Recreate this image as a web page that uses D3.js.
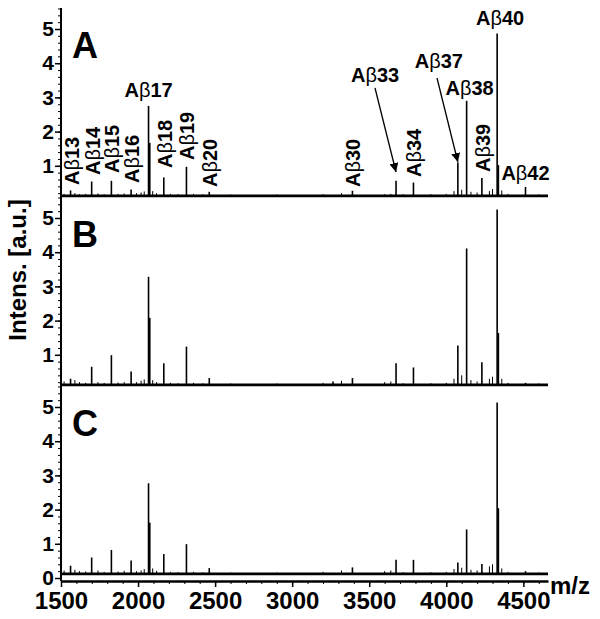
<!DOCTYPE html>
<head>
	<meta charset="utf-8">
	<title>Abeta spectra</title>
	<script src="https://d3js.org/d3.v7.min.js"></script>
	<style>
	body { margin:0; background:#fff; }
	svg text { font-family: "Liberation Sans", Arial, sans-serif; font-weight:bold; fill:#000; }
	.axis path, .axis line { stroke:#000; }
	.peak { stroke:#000; stroke-width:1.6px; }
	.baseline { stroke:#000; stroke-width:2.6px; }
	</style>
</head>
<body>
<div class="chartContainer"></div>
<script>
// peak positions (m/z) and names
var peakMz    = [1562, 1699, 1827, 1955, 2068, 2076, 2167, 2314, 2462, 3265, 3391, 3674, 3787, 4075, 4132, 4231, 4330, 4338, 4514];
var peakNames = ["Aβ13","Aβ14","Aβ15","Aβ16","Aβ17","","Aβ18","Aβ19","Aβ20","","Aβ30","Aβ33","Aβ34","Aβ37","Aβ38","Aβ39","Aβ40","","Aβ42"];
// intensities [a.u.]
var intensA = [0.28, 0.54, 0.56, 0.31, 2.75, 1.67, 0.66, 0.97, 0.24, 0.14, 0.27, 0.56, 0.51, 1.10, 2.90, 0.64, 4.87, 1.02, 0.38];
var intensB = [0.30, 0.65, 0.99, 0.51, 3.28, 2.08, 0.75, 1.24, 0.32, 0.22, 0.32, 0.75, 0.63, 1.27, 4.11, 0.78, 5.25, 1.64, 0.18];
var intensC = [0.36, 0.60, 0.82, 0.51, 2.77, 1.62, 0.70, 0.99, 0.29, 0.14, 0.31, 0.53, 0.53, 0.45, 1.42, 0.41, 5.13, 2.04, 0.20];
// small baseline spikes
var minorMz = [1520, 1590, 1620, 1660, 1740, 1780, 1870, 1910, 1990, 2020, 2040, 2095, 2120, 2210, 2260, 2360, 2420, 2600, 2900, 3200, 3320, 3600, 3640, 3720, 3900, 4000, 4050, 4100, 4160, 4200, 4280, 4300, 4360, 4400, 4600];
var minorA  = [0.18, 0.20, 0.17, 0.18, 0.19, 0.17, 0.18, 0.19, 0.20, 0.22, 0.25, 0.26, 0.20, 0.18, 0.17, 0.18, 0.17, 0.16, 0.16, 0.17, 0.20, 0.17, 0.18, 0.17, 0.17, 0.18, 0.26, 0.30, 0.24, 0.22, 0.26, 0.32, 0.28, 0.18, 0.16];
var minorB  = [0.22, 0.26, 0.20, 0.18, 0.20, 0.18, 0.19, 0.20, 0.20, 0.24, 0.28, 0.26, 0.20, 0.18, 0.17, 0.18, 0.17, 0.16, 0.16, 0.18, 0.24, 0.20, 0.22, 0.17, 0.17, 0.18, 0.30, 0.40, 0.26, 0.22, 0.30, 0.36, 0.30, 0.18, 0.16];
var minorC  = [0.22, 0.24, 0.20, 0.19, 0.22, 0.18, 0.19, 0.21, 0.20, 0.22, 0.26, 0.28, 0.21, 0.18, 0.17, 0.18, 0.17, 0.16, 0.16, 0.18, 0.22, 0.20, 0.22, 0.17, 0.17, 0.18, 0.26, 0.30, 0.24, 0.22, 0.34, 0.40, 0.28, 0.18, 0.16];
var baseLevel = 0.12;
var panelNames = ["A", "B", "C"];
var xTicks = [1500, 2000, 2500, 3000, 3500, 4000, 4500];

var plotter=(function() {
	var width=600, height=619;
	var left=61, right=548, top=8, axisY=581;
	var zeroY=[200, 389, 578], unit=34.2;

	var svg=d3.select(".chartContainer").append("svg")
		.attr("width", width).attr("height", height);

	var x=d3.scaleLinear().domain([1500, 4660]).range([left, right]);

	var panels=[intensA, intensB, intensC];
	var minors=[minorA, minorB, minorC];

	panels.forEach(function(vals, p) {
		var y=d3.scaleLinear().domain([0, 5]).range([zeroY[p], zeroY[p]-5*unit]);
		var g=svg.append("g").attr("class","panel");

		// y ticks, minor then major
		var minorTicks=d3.range(p==2 ? 0 : 0.2, 5.61, 0.2);
		g.append("g").attr("class","axis")
			.attr("transform","translate("+left+",0)")
			.call(d3.axisLeft(y).tickValues(minorTicks).tickSize(3).tickFormat(""))
			.call(function(a) { a.select(".domain").remove(); });
		var major=p==2 ? [0,1,2,3,4,5] : [1,2,3,4,5];
		g.append("g").attr("class","axis")
			.attr("transform","translate("+left+",0)")
			.call(d3.axisLeft(y).tickValues(major).tickSize(6).tickPadding(1).tickFormat(d3.format("d")))
			.call(function(a) {
				a.select(".domain").remove();
				a.selectAll("line").attr("stroke-width",1.5);
				a.selectAll("text").style("font-size","21px");
			});

		// baseline
		g.append("line").attr("class","baseline")
			.attr("x1", x(1500)).attr("x2", right)
			.attr("y1", y(baseLevel)).attr("y2", y(baseLevel));

		// small spikes
		g.selectAll(".minor").data(minorMz).enter().append("line")
			.attr("class","peak")
			.attr("x1", function(d) { return x(d); }).attr("x2", function(d) { return x(d); })
			.attr("y1", y(baseLevel)).attr("y2", function(d, i) { return y(minors[p][i]); })
			.style("stroke-width","1px");

		// peaks
		g.selectAll(".pk").data(peakMz).enter().append("line")
			.attr("class","peak")
			.attr("x1", function(d) { return x(d); }).attr("x2", function(d) { return x(d); })
			.attr("y1", y(baseLevel)).attr("y2", function(d, i) { return y(vals[i]); });

		// panel letter
		svg.append("text").attr("x", 72).attr("y", y(5)+29)
			.style("font-size","36px").text(panelNames[p]);
	});

	// continuous y axis line
	svg.append("line").attr("x1",left).attr("x2",left).attr("y1",top).attr("y2",axisY)
		.attr("stroke","#000").attr("stroke-width",2);

	// x axis
	svg.append("g").attr("class","axis")
		.attr("transform","translate(0,"+axisY+")")
		.call(d3.axisBottom(x).tickValues(d3.range(1500, 4660, 100)).tickSize(3).tickFormat(""))
		.call(function(a) { a.select(".domain").remove(); });
	svg.append("g").attr("class","axis")
		.attr("transform","translate(0,"+axisY+")")
		.call(d3.axisBottom(x).tickValues(xTicks).tickSize(6).tickSizeOuter(0).tickPadding(5).tickFormat(d3.format("d")))
		.call(function(a) {
			a.select(".domain").attr("stroke-width",2.6);
			a.selectAll("line").attr("stroke-width",1.5);
			a.selectAll("text").style("font-size","24px");
		});

	svg.append("text").attr("x", 550).attr("y", 594).style("font-size","24px").text("m/z");

	svg.append("text").attr("transform","translate(26,270) rotate(-90)")
		.attr("text-anchor","middle").style("font-size","24px").text("Intens. [a.u.]");

	// peak labels in panel A
	var vertical={"Aβ13":185,"Aβ14":175,"Aβ15":173,"Aβ16":183,"Aβ18":168,"Aβ19":160,"Aβ20":187,"Aβ30":187,"Aβ34":177,"Aβ39":172};
	var horizontal={"Aβ17":[0,97],"Aβ33":[-21,82],"Aβ37":[-19,68],"Aβ38":[3,95],"Aβ40":[3,25],"Aβ42":[0,180]};

	var addLabel=function(sel, name) {
		sel.append("tspan").text("A");
		sel.append("tspan").style("font-weight","normal").text("β");
		sel.append("tspan").text(name.slice(2));
	};

	peakNames.forEach(function(name, i) {
		if (!name) return;
		var px=x(peakMz[i]);
		if (vertical[name]) {
			var t=svg.append("text")
				.attr("transform","translate("+(px+8)+","+vertical[name]+") rotate(-90)")
				.style("font-size","20px");
			addLabel(t, name);
		} else {
			var h=horizontal[name];
			var t2=svg.append("text").attr("x", px+h[0]).attr("y", h[1])
				.attr("text-anchor","middle").style("font-size","20px");
			addLabel(t2, name);
		}
	});

	// arrows for Abeta33 and Abeta37
	svg.append("defs").append("marker")
		.attr("id","arrow").attr("viewBox","0 0 10 10").attr("refX",10).attr("refY",5)
		.attr("markerWidth",9).attr("markerHeight",9).attr("markerUnits","userSpaceOnUse").attr("orient","auto")
		.append("path").attr("d","M0,0L10,5L0,10z").attr("fill","#000");
	[[3674, 375, 88, 172], [4075, 437, 78, 162]].forEach(function(a) {
		svg.append("line")
			.attr("x1", a[1]).attr("y1", a[2])
			.attr("x2", x(a[0])).attr("y2", a[3])
			.attr("stroke","#000").attr("stroke-width",1.3)
			.attr("marker-end","url(#arrow)");
	});
});
plotter();
</script>
</body>
</html>
